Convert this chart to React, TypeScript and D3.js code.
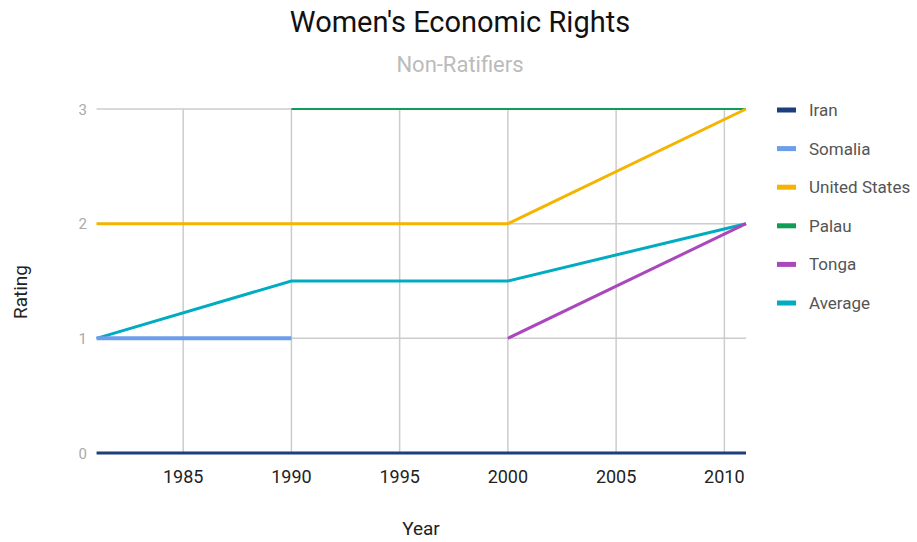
import React from "react";
import * as d3 from "d3";

const years = [1981, 1990, 2000, 2011];
const iran = [0, 0, 0, 0];
const somalia = [1, 1, null, null];
const unitedStates = [2, 2, 2, 3];
const palau = [null, 3, 3, 3];
const tonga = [null, null, 1, 2];
const average = [1, 1.5, 1.5, 2];
const xTicks = [1985, 1990, 1995, 2000, 2005, 2010];
const yTicks = [0, 1, 2, 3];

const seriesNames = ["Iran", "Somalia", "United States", "Palau", "Tonga", "Average"];
const seriesValues = [iran, somalia, unitedStates, palau, tonga, average];
const colors = ["#1c3f7c", "#6d9eeb", "#f4b400", "#0f9d58", "#ab47bc", "#00acc1"];
const widths = [3, 4, 3, 2, 3, 3];

export default function App() {
  const W = 917, H = 542;
  const x = d3.scaleLinear().domain([1981, 2011]).range([96.6, 746]);
  const y = d3.scaleLinear().domain([0, 3]).range([453, 109]);
  const font = "Roboto, 'Noto Sans', sans-serif";
  const line = d3
    .line<[number, number | null]>()
    .defined((d) => d[1] !== null)
    .x((d) => x(d[0]))
    .y((d) => y(d[1] as number));
  const drawOrder = [5, 4, 3, 2, 1, 0];
  return (
    <svg width={W} height={H} style={{ position: "absolute", left: 0, top: 0, fontFamily: font }}>
      <rect width={W} height={H} fill="#fff" />
      <text x={460} y={32} textAnchor="middle" fontSize={29} fill="#111">Women's Economic Rights</text>
      <text x={460} y={72} textAnchor="middle" fontSize={22} fill="#bbb">Non-Ratifiers</text>
      {yTicks.map((t) => (
        <g key={"y" + t}>
          <line x1={x(1981)} x2={x(2011)} y1={y(t)} y2={y(t)} stroke="#ccc" strokeWidth={1.5} />
          <text x={87} y={y(t) + 5.5} textAnchor="end" fontSize={15} fill="#aaa">{t}</text>
        </g>
      ))}
      {xTicks.map((t) => (
        <g key={"x" + t}>
          <line x1={x(t)} x2={x(t)} y1={y(3)} y2={y(0)} stroke="#ccc" strokeWidth={1.5} />
          <text x={x(t)} y={483} textAnchor="middle" fontSize={18} fill="#222">{t}</text>
        </g>
      ))}
      {drawOrder.map((i) => (
        <path
          key={seriesNames[i]}
          d={line(years.map((yr, j) => [yr, seriesValues[i][j]]) as [number, number | null][]) || ""}
          fill="none"
          stroke={colors[i]}
          strokeWidth={widths[i]}
        />
      ))}
      <text x={421} y={535} textAnchor="middle" fontSize={19} fill="#222">Year</text>
      <text transform="translate(27,292) rotate(-90)" textAnchor="middle" fontSize={19} fill="#222">Rating</text>
      {seriesNames.map((n, i) => (
        <g key={"l" + n}>
          <rect x={777} y={110 + i * 38.6 - 2.5} width={19} height={5} fill={colors[i]} />
          <text x={809} y={110 + i * 38.6 + 6} fontSize={17} fill="#555">{n}</text>
        </g>
      ))}
    </svg>
  );
}
